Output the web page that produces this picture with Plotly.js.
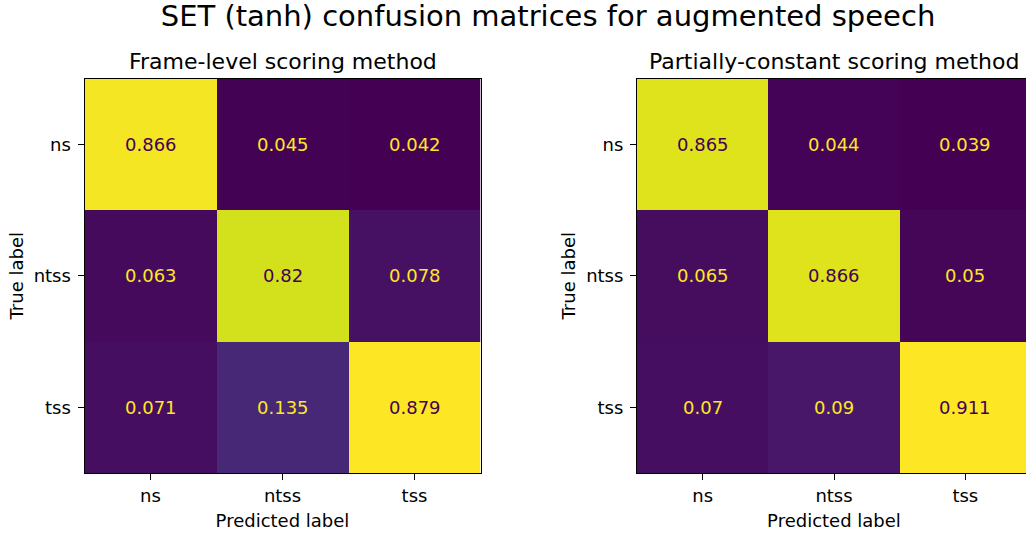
<!DOCTYPE html>
<html><head><meta charset="utf-8">
<script src="https://cdn.plot.ly/plotly-3.0.1.min.js"></script>
<style>html,body{margin:0;padding:0;overflow:hidden;background:#fff}</style>
</head><body><div id="chart" style="width:1031px;height:533px"></div>
<script>
const labels = ['ns', 'ntss', 'tss'];
const frameLevel = [[0.866, 0.045, 0.042], [0.063, 0.82, 0.078], [0.071, 0.135, 0.879]];
const partiallyConstant = [[0.865, 0.044, 0.039], [0.065, 0.866, 0.05], [0.07, 0.09, 0.911]];
const mainTitle = 'SET (tanh) confusion matrices for augmented speech';
const subTitles = ['Frame-level scoring method', 'Partially-constant scoring method'];

const viridis = [
  [0.0, '#440154'], [0.0625, '#48186a'], [0.125, '#472d7b'], [0.1875, '#424086'],
  [0.25, '#3b528b'], [0.3125, '#33638d'], [0.375, '#2c728e'], [0.4375, '#26828e'],
  [0.5, '#21918c'], [0.5625, '#1fa088'], [0.625, '#28ae80'], [0.6875, '#3fbc73'],
  [0.75, '#5ec962'], [0.8125, '#84d44b'], [0.875, '#addc30'], [0.9375, '#d8e219'],
  [1.0, '#fde725']
];
const FONT = 'DejaVu Sans, sans-serif';
const W = 1031, H = 533;

const mats = [frameLevel, partiallyConstant];
const traces = [];
const annotations = [];
mats.forEach((m, k) => {
  const flat = m.flat();
  const mn = Math.min(...flat), mx = Math.max(...flat);
  const thr = (mn + mx) / 2;
  const sfx = k === 0 ? '' : '2';
  traces.push({
    type: 'heatmap', z: m, x: labels, y: labels,
    colorscale: viridis, zmin: mn, zmax: mx, showscale: false,
    xaxis: 'x' + sfx, yaxis: 'y' + sfx, hoverinfo: 'x+y+z'
  });
  m.forEach((row, i) => row.forEach((v, j) => {
    annotations.push({
      xref: 'x' + sfx, yref: 'y' + sfx, x: labels[j], y: labels[i],
      text: String(v), showarrow: false,
      font: {family: FONT, size: 18, color: v < thr ? '#fde725' : '#440154'}
    });
  }));
});

const yDom = [(H - 473) / H, (H - 78.5) / H];
const xDom1 = [84.5 / W, 480.5 / W];
const xDom2 = [637 / W, 1];

subTitles.forEach((t, k) => {
  const d = k === 0 ? xDom1 : xDom2;
  annotations.push({
    xref: 'paper', yref: 'paper', x: (d[0] + d[1]) / 2, y: 1 - 62 / H,
    xanchor: 'center', yanchor: 'middle', text: t, showarrow: false,
    font: {family: FONT, size: 22, color: '#000'}
  });
});

function xax(dom, anchor) {
  return {
    domain: dom, anchor: anchor, type: 'category', range: [-0.5, 2.5],
    showgrid: false, zeroline: false, showline: true, mirror: true,
    linecolor: '#000', linewidth: 1, ticks: 'outside', ticklen: 6, tickwidth: 1,
    tickcolor: '#000', tickfont: {family: FONT, size: 18, color: '#000'},
    ticklabelstandoff: 0, automargin: false,
    title: {text: 'Predicted label', font: {family: FONT, size: 18, color: '#000'}, standoff: 9},
    fixedrange: true
  };
}
function yax(anchor) {
  return {
    domain: yDom, anchor: anchor, type: 'category', range: [2.5, -0.5],
    showgrid: false, zeroline: false, showline: true, mirror: true,
    linecolor: '#000', linewidth: 1, ticks: 'outside', ticklen: 6, tickwidth: 1,
    tickcolor: '#000', tickfont: {family: FONT, size: 18, color: '#000'},
    ticklabelstandoff: 3, automargin: false,
    title: {text: 'True label', font: {family: FONT, size: 18, color: '#000'}, standoff: 5},
    fixedrange: true
  };
}

const layout = {
  width: W, height: H,
  margin: {l: 0, r: 0, t: 0, b: 0, autoexpand: false},
  paper_bgcolor: '#fff', plot_bgcolor: '#fff',
  title: {text: mainTitle, x: 548 / W, xanchor: 'center', y: 1 - 15.5 / H, yanchor: 'middle',
          yref: 'container', font: {family: FONT, size: 29, color: '#000'}},
  xaxis: xax(xDom1, 'y'), yaxis: yax('x'),
  xaxis2: xax(xDom2, 'y2'), yaxis2: yax('x2'),
  annotations: annotations,
  showlegend: false
};

Plotly.newPlot('chart', traces, layout, {displayModeBar: false});
</script></body></html>
